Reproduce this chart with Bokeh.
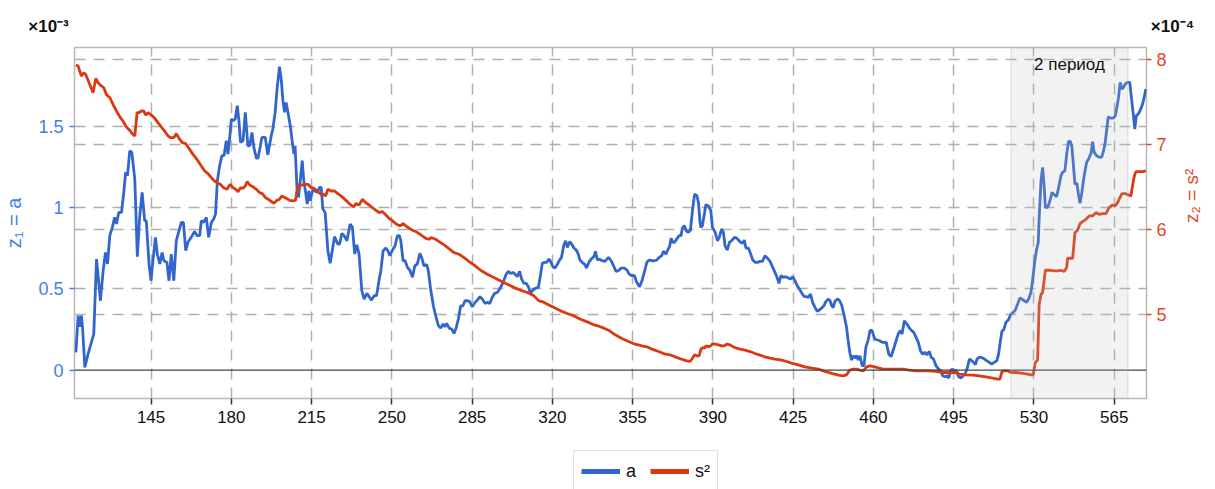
import math
from bokeh.plotting import figure
from bokeh.layouts import column
from bokeh.models import (Range1d, LinearAxis, FixedTicker, Grid, Span, BoxAnnotation,
                          Label, Legend, LegendItem, CustomJSTickFormatter)
from bokeh.embed import file_html
from bokeh.resources import INLINE

# ---- series a (left axis, units of 1e-3) ----
t_a = [
    112.2, 113.2, 113.9, 114.6, 115.1, 116.1, 117.5, 120.0, 121.2, 122.9,
    124.1, 125.1, 126.0, 127.0, 128.1, 129.1, 129.9, 130.9, 132.1, 133.1,
    133.9, 134.7, 135.7, 136.6, 137.9, 139.0, 140.0, 141.1, 142.2, 142.9,
    144.1, 145.0, 145.8, 146.9, 147.7, 148.8, 149.8, 150.6, 151.9, 152.8,
    153.8, 154.9, 156.0, 157.2, 158.2, 159.1, 160.1, 161.1, 162.5, 164.0,
    165.0, 166.2, 166.9, 167.9, 169.1, 170.1, 171.3, 172.3, 173.1, 173.9,
    174.9, 175.9, 176.8, 177.8, 178.5, 179.2, 180.0, 180.7, 181.7, 182.6,
    183.3, 184.0, 185.1, 186.1, 187.2, 188.0, 189.0, 189.8, 190.9, 191.6,
    192.6, 193.3, 194.8, 195.9, 197.4, 198.1, 199.1, 200.0, 201.0, 201.8,
    202.5, 203.2, 203.9, 204.7, 205.7, 206.8, 207.3, 207.8, 208.6, 209.3,
    210.2, 210.9, 211.6, 212.3, 213.1, 213.8, 214.4, 215.5, 216.4, 217.4,
    218.5, 219.2, 219.9, 220.9, 222.1, 223.1, 224.0, 225.0, 226.4, 227.2,
    228.2, 229.2, 230.4, 231.8, 232.8, 233.8, 234.7, 235.7, 236.9, 237.9,
    239.1, 240.1, 241.1, 242.3, 243.3, 244.5, 245.2, 246.2, 247.4, 248.4,
    249.1, 250.3, 251.4, 252.4, 253.3, 253.9, 254.9, 255.8, 256.8, 257.8,
    259.0, 260.0, 261.1, 262.2, 263.0, 264.0, 265.2, 265.9, 266.9, 268.1,
    269.1, 270.3, 271.3, 272.3, 273.1, 273.9, 275.0, 276.1, 277.1, 278.1,
    279.0, 280.0, 281.0, 281.9, 282.9, 283.9, 285.1, 286.3, 287.3, 288.4,
    289.5, 290.6, 291.6, 292.7, 293.8, 294.8, 296.0, 297.0, 298.2, 298.9,
    299.9, 300.8, 301.8, 302.8, 303.7, 304.7, 305.7, 306.6, 307.6, 308.6,
    309.5, 310.5, 311.5, 312.7, 313.9, 314.9, 315.6, 316.6, 317.5, 318.5,
    319.2, 320.2, 321.1, 322.1, 323.1, 324.0, 325.0, 325.8, 326.5, 327.5,
    328.4, 329.4, 330.4, 331.3, 332.0, 333.0, 334.2, 334.9, 335.9, 336.9,
    338.1, 338.8, 339.6, 340.6, 341.7, 342.9, 344.5, 345.6, 346.7, 347.7,
    348.8, 350.0, 351.4, 352.5, 353.5, 354.6, 355.8, 356.8, 358.0, 359.0,
    360.2, 361.2, 362.2, 363.4, 364.4, 365.5, 366.6, 367.7, 368.4, 369.5,
    370.3, 371.1, 371.8, 372.5, 373.2, 374.2, 375.3, 376.1, 376.7, 377.6,
    378.3, 379.3, 380.2, 381.1, 382.0, 383.0, 383.7, 384.4, 384.8, 385.4,
    386.3, 386.9, 388.0, 389.1, 389.8, 391.0, 392.0, 392.8, 393.8, 394.6,
    395.3, 396.3, 397.2, 398.2, 399.4, 400.4, 401.4, 402.1, 403.0, 403.7,
    404.4, 405.5, 406.5, 407.4, 408.4, 409.5, 410.5, 411.6, 412.7, 413.7,
    414.9, 416.1, 417.1, 418.1, 418.8, 419.7, 420.7, 421.7, 422.9, 423.9,
    424.8, 425.8, 426.8, 428.0, 429.0, 429.9, 430.9, 431.6, 432.6, 433.5,
    434.5, 435.5, 436.4, 437.4, 438.4, 439.3, 440.3, 441.0, 441.8, 442.5,
    443.2, 444.2, 445.1, 446.1, 447.1, 448.3, 449.0, 449.7, 450.5, 451.2,
    451.9, 452.7, 453.4, 454.1, 455.1, 455.9, 456.7, 457.7, 458.5, 459.2,
    459.9, 460.6, 462.7, 464.1, 465.6, 466.7, 467.7, 468.8, 469.9, 470.9,
    471.8, 472.5, 473.5, 474.6, 475.7, 476.7, 477.6, 478.6, 479.6, 480.5,
    481.5, 482.5, 483.4, 484.4, 485.2, 486.2, 487.3, 488.4, 489.5, 490.2,
    491.3, 492.1, 492.9, 493.6, 494.3, 495.3, 496.3, 497.2, 498.2, 499.2,
    500.1, 500.8, 501.9, 502.9, 503.7, 504.5, 505.2, 506.2, 507.2, 508.4,
    509.4, 510.6, 511.6, 512.7, 513.8, 514.6, 515.4, 516.1, 516.8, 517.8,
    518.8, 520.0, 521.0, 521.9, 522.9, 523.9, 524.8, 525.8, 526.8, 527.7,
    528.7, 529.4, 530.5, 531.2, 531.9, 532.3, 533.1, 533.8, 534.5, 535.0,
    536.0, 537.0, 537.9, 538.9, 539.9, 540.8, 541.8, 542.5, 543.5, 544.3,
    545.1, 545.9, 546.6, 547.3, 547.9, 548.8, 549.3, 550.1, 550.9, 551.9,
    553.0, 553.8, 554.9, 555.6, 556.3, 557.3, 558.2, 558.9, 559.6, 560.4,
    561.1, 561.7, 562.4, 563.3, 564.0, 564.7, 565.5, 566.2, 566.9, 567.6,
    568.4, 569.1, 569.8, 570.8, 571.8, 572.6, 573.4, 574.0, 574.7, 575.5,
    576.3, 577.4, 578.1, 578.8,
]
a_vals = [
    0.109, 0.334, 0.266, 0.334, 0.266, 0.016, 0.098, 0.221, 0.682, 0.426,
    0.611, 0.723, 0.652, 0.826, 0.877, 0.939, 0.898, 0.969, 0.969, 1.092,
    1.215, 1.195, 1.348, 1.338, 1.174, 0.697, 0.939, 1.092, 0.918, 0.918,
    0.652, 0.549, 0.672, 0.816, 0.713, 0.652, 0.723, 0.672, 0.662, 0.549,
    0.713, 0.549, 0.795, 0.857, 0.908, 0.908, 0.734, 0.785, 0.816, 0.852,
    0.826, 0.826, 0.918, 0.908, 0.939, 0.816, 0.908, 0.928, 0.959, 1.164,
    1.256, 1.318, 1.318, 1.410, 1.328, 1.414, 1.543, 1.533, 1.543, 1.625,
    1.533, 1.400, 1.410, 1.584, 1.379, 1.379, 1.461, 1.369, 1.303, 1.303,
    1.373, 1.430, 1.430, 1.324, 1.441, 1.482, 1.584, 1.738, 1.865, 1.779,
    1.656, 1.584, 1.645, 1.584, 1.502, 1.379, 1.328, 1.379, 1.123, 1.061,
    1.184, 1.287, 1.164, 1.102, 1.020, 1.102, 1.041, 1.107, 1.102, 1.092,
    1.123, 1.123, 0.990, 0.969, 0.734, 0.656, 0.734, 0.820, 0.775, 0.775,
    0.840, 0.826, 0.795, 0.898, 0.877, 0.713, 0.770, 0.713, 0.488, 0.436,
    0.471, 0.451, 0.430, 0.457, 0.457, 0.559, 0.611, 0.734, 0.750, 0.730,
    0.703, 0.738, 0.764, 0.826, 0.826, 0.795, 0.672, 0.672, 0.631, 0.615,
    0.570, 0.641, 0.652, 0.717, 0.693, 0.641, 0.648, 0.611, 0.498, 0.395,
    0.334, 0.273, 0.258, 0.283, 0.266, 0.287, 0.258, 0.252, 0.225, 0.262,
    0.314, 0.395, 0.395, 0.426, 0.426, 0.422, 0.389, 0.416, 0.430, 0.451,
    0.436, 0.410, 0.416, 0.410, 0.447, 0.471, 0.477, 0.498, 0.529, 0.553,
    0.590, 0.607, 0.594, 0.600, 0.590, 0.574, 0.607, 0.559, 0.533, 0.533,
    0.512, 0.471, 0.492, 0.504, 0.508, 0.590, 0.656, 0.662, 0.662, 0.682,
    0.668, 0.635, 0.627, 0.648, 0.676, 0.693, 0.770, 0.795, 0.754, 0.789,
    0.775, 0.750, 0.738, 0.713, 0.676, 0.662, 0.648, 0.627, 0.662, 0.682,
    0.697, 0.730, 0.676, 0.682, 0.672, 0.668, 0.693, 0.672, 0.641, 0.607,
    0.611, 0.627, 0.627, 0.615, 0.590, 0.580, 0.580, 0.539, 0.512, 0.545,
    0.607, 0.662, 0.676, 0.672, 0.672, 0.676, 0.693, 0.703, 0.730, 0.713,
    0.738, 0.758, 0.811, 0.785, 0.785, 0.805, 0.826, 0.826, 0.873, 0.887,
    0.857, 0.846, 0.861, 0.980, 1.082, 1.072, 1.031, 0.908, 0.877, 0.887,
    0.959, 1.016, 1.010, 0.980, 0.877, 0.846, 0.795, 0.816, 0.867, 0.846,
    0.764, 0.738, 0.785, 0.795, 0.816, 0.811, 0.795, 0.785, 0.779, 0.799,
    0.750, 0.750, 0.713, 0.676, 0.662, 0.662, 0.668, 0.668, 0.703, 0.689,
    0.668, 0.631, 0.600, 0.566, 0.533, 0.580, 0.570, 0.574, 0.566, 0.559,
    0.574, 0.549, 0.518, 0.492, 0.467, 0.451, 0.451, 0.447, 0.467, 0.416,
    0.385, 0.361, 0.369, 0.381, 0.395, 0.422, 0.436, 0.430, 0.395, 0.385,
    0.422, 0.436, 0.430, 0.402, 0.344, 0.262, 0.180, 0.109, 0.061, 0.088,
    0.074, 0.088, 0.061, 0.088, 0.027, 0.027, 0.139, 0.184, 0.242, 0.246,
    0.221, 0.191, 0.180, 0.170, 0.170, 0.098, 0.082, 0.129, 0.180, 0.225,
    0.242, 0.221, 0.303, 0.283, 0.258, 0.242, 0.232, 0.201, 0.170, 0.119,
    0.098, 0.109, 0.094, 0.115, 0.078, 0.068, 0.027, 0.006, -0.004, -0.035,
    -0.041, -0.035, -0.049, -0.008, 0.006, -0.004, -0.004, -0.041, -0.049, -0.035,
    -0.020, 0.006, 0.068, 0.057, 0.047, 0.033, 0.068, 0.078, 0.078, 0.068,
    0.057, 0.047, 0.037, 0.047, 0.057, 0.098, 0.180, 0.242, 0.246, 0.293,
    0.307, 0.344, 0.354, 0.369, 0.406, 0.443, 0.436, 0.426, 0.416, 0.436,
    0.477, 0.549, 0.682, 0.744, 0.785, 0.939, 1.164, 1.246, 1.123, 1.000,
    1.000, 1.041, 1.092, 1.078, 1.066, 1.123, 1.195, 1.215, 1.225, 1.328,
    1.406, 1.406, 1.369, 1.246, 1.143, 1.148, 1.092, 1.025, 1.092, 1.195,
    1.277, 1.297, 1.332, 1.404, 1.338, 1.318, 1.311, 1.307, 1.311, 1.348,
    1.400, 1.471, 1.557, 1.549, 1.549, 1.549, 1.564, 1.615, 1.676, 1.768,
    1.727, 1.738, 1.758, 1.768, 1.768, 1.666, 1.564, 1.482, 1.564, 1.574,
    1.594, 1.635, 1.676, 1.727,
]

# ---- series s^2 (right axis, units of 1e-4) ----
t_s2 = [
    112.2, 113.2, 114.6, 115.6, 116.5, 118.3, 119.7, 120.9, 121.9, 122.9,
    124.4, 125.5, 127.0, 128.4, 129.9, 131.6, 132.8, 134.2, 135.7, 136.8,
    137.9, 138.9, 139.7, 140.8, 141.8, 142.7, 143.7, 145.1, 146.6, 148.0,
    149.5, 150.9, 152.4, 153.4, 154.9, 156.0, 157.2, 158.6, 160.1, 161.8,
    163.3, 165.0, 166.9, 168.4, 169.8, 171.3, 172.7, 173.7, 175.2, 176.6,
    178.1, 179.5, 180.7, 181.9, 182.9, 184.0, 185.1, 186.1, 186.9, 188.0,
    189.4, 190.9, 192.3, 193.5, 194.9, 196.7, 198.6, 199.9, 201.0, 202.0,
    203.9, 205.4, 206.8, 208.0, 209.0, 210.5, 211.9, 213.4, 214.8, 216.3,
    217.7, 219.2, 220.2, 221.1, 222.1, 223.5, 225.0, 226.4, 227.8, 229.2,
    230.6, 232.1, 233.3, 234.3, 235.7, 237.2, 238.6, 240.1, 241.5, 243.0,
    244.5, 245.9, 247.4, 248.8, 250.3, 251.7, 253.6, 254.9, 256.1, 257.5,
    259.0, 260.4, 261.9, 263.3, 264.8, 266.2, 267.2, 269.1, 270.6, 272.8,
    274.9, 277.1, 279.3, 281.5, 283.7, 285.8, 288.7, 291.6, 294.5, 297.4,
    300.4, 303.3, 306.2, 309.1, 312.0, 314.1, 315.6, 317.8, 320.7, 323.6,
    326.5, 329.4, 332.3, 335.2, 338.1, 340.3, 342.5, 344.5, 347.4, 350.3,
    353.2, 356.1, 359.0, 361.2, 363.4, 366.3, 369.2, 371.3, 373.5, 376.4,
    378.6, 380.1, 381.1, 382.0, 383.0, 384.0, 384.8, 385.6, 386.3, 387.0,
    388.0, 389.1, 389.9, 391.0, 392.4, 393.9, 395.0, 396.0, 397.5, 398.9,
    400.4, 401.8, 404.0, 406.2, 408.4, 410.5, 412.7, 414.9, 417.1, 420.0,
    422.2, 424.3, 427.2, 430.1, 433.1, 436.0, 438.9, 441.8, 444.7, 446.8,
    448.3, 449.7, 451.2, 452.7, 454.1, 455.6, 457.0, 458.5, 460.6, 464.1,
    467.0, 469.9, 472.8, 475.7, 478.6, 481.5, 484.4, 487.3, 490.2, 493.1,
    495.3, 497.5, 500.4, 503.3, 506.2, 509.1, 512.0, 514.2, 515.2, 516.1,
    517.1, 518.6, 520.0, 522.2, 525.1, 527.3, 528.7, 529.7, 530.6, 531.6,
    532.3, 533.1, 533.8, 535.0, 536.0, 537.4, 538.9, 540.3, 541.8, 543.2,
    544.3, 544.7, 545.7, 546.9, 547.9, 549.0, 550.1, 551.2, 552.7, 554.1,
    555.6, 557.0, 558.5, 559.9, 561.4, 562.8, 564.3, 565.5, 566.5, 567.5,
    568.4, 569.8, 571.3, 572.3, 573.0, 573.8, 574.5, 575.9, 577.4, 578.8,
]
s2_vals = [
    7.930, 7.918, 7.800, 7.840, 7.820, 7.700, 7.605, 7.773, 7.723, 7.695,
    7.664, 7.586, 7.547, 7.469, 7.391, 7.313, 7.273, 7.203, 7.164, 7.125,
    7.098, 7.371, 7.371, 7.391, 7.391, 7.344, 7.371, 7.344, 7.305, 7.254,
    7.203, 7.156, 7.098, 7.078, 7.078, 7.125, 7.070, 7.020, 7.008, 6.941,
    6.883, 6.824, 6.746, 6.688, 6.656, 6.609, 6.570, 6.551, 6.531, 6.492,
    6.473, 6.531, 6.492, 6.473, 6.445, 6.492, 6.484, 6.512, 6.563, 6.523,
    6.504, 6.473, 6.434, 6.422, 6.375, 6.344, 6.309, 6.344, 6.355, 6.395,
    6.367, 6.344, 6.336, 6.344, 6.523, 6.520, 6.531, 6.531, 6.492, 6.480,
    6.445, 6.414, 6.414, 6.395, 6.473, 6.453, 6.453, 6.422, 6.395, 6.363,
    6.328, 6.289, 6.266, 6.305, 6.289, 6.355, 6.316, 6.289, 6.258, 6.227,
    6.199, 6.211, 6.172, 6.133, 6.102, 6.070, 6.043, 6.070, 6.043, 6.016,
    5.992, 5.977, 5.953, 5.926, 5.898, 5.887, 5.906, 5.887, 5.859, 5.820,
    5.777, 5.730, 5.711, 5.672, 5.625, 5.586, 5.523, 5.477, 5.438, 5.398,
    5.359, 5.320, 5.289, 5.262, 5.223, 5.164, 5.156, 5.125, 5.086, 5.047,
    5.016, 4.988, 4.949, 4.918, 4.883, 4.867, 4.844, 4.820, 4.766, 4.723,
    4.688, 4.656, 4.637, 4.625, 4.598, 4.570, 4.539, 4.531, 4.508, 4.480,
    4.461, 4.453, 4.492, 4.531, 4.520, 4.520, 4.598, 4.617, 4.609, 4.637,
    4.625, 4.637, 4.664, 4.656, 4.648, 4.637, 4.637, 4.656, 4.648, 4.625,
    4.609, 4.598, 4.586, 4.570, 4.547, 4.527, 4.508, 4.492, 4.480, 4.469,
    4.453, 4.434, 4.414, 4.391, 4.375, 4.363, 4.336, 4.313, 4.293, 4.285,
    4.297, 4.352, 4.363, 4.363, 4.352, 4.344, 4.391, 4.402, 4.391, 4.363,
    4.363, 4.363, 4.363, 4.352, 4.344, 4.344, 4.344, 4.336, 4.324, 4.324,
    4.324, 4.305, 4.297, 4.293, 4.285, 4.273, 4.258, 4.246, 4.246, 4.336,
    4.344, 4.344, 4.324, 4.324, 4.313, 4.305, 4.297, 4.297, 4.441, 4.469,
    5.125, 5.242, 5.262, 5.523, 5.523, 5.523, 5.516, 5.516, 5.523, 5.508,
    5.555, 5.664, 5.664, 5.664, 5.965, 5.992, 6.070, 6.094, 6.121, 6.160,
    6.160, 6.199, 6.180, 6.188, 6.188, 6.258, 6.289, 6.277, 6.316, 6.375,
    6.422, 6.422, 6.406, 6.395, 6.512, 6.629, 6.680, 6.680, 6.680, 6.688,
]

x_ticks = [145, 180, 215, 250, 285, 320, 355, 390, 425, 460, 495, 530, 565]
left_ticks = [0, 0.5, 1, 1.5]
right_ticks = [5, 6, 7, 8]
period_start, period_end = 520, 571
period_label = "2 период"
scale_left, scale_right = "×10⁻³", "×10⁻⁴"

FONT = "Liberation Sans"
BLUE = "#3366cc"
RED = "#dc3912"
BLUE_TXT = "#3f80ee"
RED_TXT = "#e8461e"
GRID = "#b0b0b0"
DASH = "11 8"
W = 1215
X0, X1 = 111.6, 579.1

# ---- main chart ----
p = figure(width=W, height=438, output_backend="svg", toolbar_location=None,
           x_range=Range1d(X0, X1), y_range=Range1d(-0.175, 1.983),
           min_border_left=73, min_border_right=68, min_border_top=47,
           min_border_bottom=40)
p.extra_y_ranges = {"s2": Range1d(4.019, 8.136)}
p.outline_line_color = "#b8b8b8"
p.outline_line_width = 1.5

fmt = CustomJSTickFormatter(code="return String(tick);")

xa = p.xaxis[0]
xa.ticker = FixedTicker(ticks=x_ticks)
xa.axis_line_color = None
xa.major_tick_in = 0
xa.major_tick_out = 6
xa.major_tick_line_color = "#333333"
xa.major_tick_line_width = 1.5
xa.minor_tick_line_color = None
xa.major_label_text_font = FONT
xa.major_label_text_font_size = "17px"
xa.major_label_text_color = "#111111"
xa.major_label_standoff = 6

ya = p.yaxis[0]
ya.ticker = FixedTicker(ticks=left_ticks)
ya.formatter = fmt
ya.axis_line_color = None
ya.major_tick_in = 0
ya.major_tick_out = 5
ya.major_tick_line_color = BLUE_TXT
ya.major_tick_line_width = 1.5
ya.minor_tick_line_color = None
ya.major_label_text_font = FONT
ya.major_label_text_font_size = "18px"
ya.major_label_text_color = BLUE_TXT
ya.major_label_standoff = 6
ya.axis_label = "z₁ = a"
ya.axis_label_text_font = FONT
ya.axis_label_text_font_size = "20px"
ya.axis_label_text_font_style = "normal"
ya.axis_label_text_color = BLUE_TXT
ya.axis_label_standoff = 10

yr = LinearAxis(y_range_name="s2", ticker=FixedTicker(ticks=right_ticks), formatter=fmt)
yr.axis_line_color = None
yr.major_tick_in = 0
yr.major_tick_out = 5
yr.major_tick_line_color = RED_TXT
yr.major_tick_line_width = 1.5
yr.minor_tick_line_color = None
yr.major_label_text_font = FONT
yr.major_label_text_font_size = "18px"
yr.major_label_text_color = RED_TXT
yr.major_label_standoff = 5
yr.axis_label = "z₂ = s²"
yr.axis_label_text_font = FONT
yr.axis_label_text_font_size = "19px"
yr.axis_label_text_font_style = "normal"
yr.axis_label_text_color = RED_TXT
yr.axis_label_standoff = 22
if "axis_label_orientation" in yr.properties():
    yr.axis_label_orientation = math.pi / 2
p.add_layout(yr, "right")

# scale factors: labels of a bare top axis at the two ends of the x range,
# padded with no-break spaces so each sits beside its value axis
pad = "\u00a0" * 11
top = LinearAxis(ticker=FixedTicker(ticks=[X0 + 0.01, X1 - 0.01]),
                 formatter=CustomJSTickFormatter(
                     args=dict(left=scale_left + pad, right=pad + scale_right),
                     code="return tick < 300 ? left : right;"))
top.axis_line_color = None
top.major_tick_line_color = None
top.minor_tick_line_color = None
top.major_tick_in = 0
top.major_tick_out = 0
top.major_label_standoff = 12
top.major_label_text_font = FONT
top.major_label_text_font_size = "17px"
top.major_label_text_font_style = "bold"
top.major_label_text_color = "#111111"
p.add_layout(top, "above")

p.xgrid.ticker = FixedTicker(ticks=x_ticks)
p.ygrid.ticker = FixedTicker(ticks=[t for t in left_ticks if t != 0])
for g in (p.xgrid[0], p.ygrid[0]):
    g.grid_line_color = GRID
    g.grid_line_width = 1.5
    g.grid_line_dash = DASH
p.add_layout(Grid(dimension=1, ticker=FixedTicker(ticks=right_ticks), y_range_name="s2",
                  grid_line_color=GRID, grid_line_width=1.5, grid_line_dash=DASH))

p.add_layout(Span(location=0, dimension="width", line_color="#444444", line_width=1.2))

p.line(t_a, a_vals, line_color=BLUE, line_width=2.8)
p.line(t_s2, s2_vals, line_color=RED, line_width=2.8, y_range_name="s2")

p.add_layout(BoxAnnotation(left=period_start, right=period_end,
                           fill_color="#bfbfbf", fill_alpha=0.2,
                           line_color="#b5b5b5", line_width=1.5))
p.add_layout(Label(x=(period_start + period_end) / 2, y=334, x_units="data",
                   y_units="screen", text=period_label, text_font=FONT,
                   text_font_size="17px", text_color="#111111",
                   text_align="center", text_baseline="middle"))

# ---- footer strip with the series legend ----
# the footer's unit ranges keep these copies of the series out of view;
# they only supply the legend swatches
footer = figure(width=W, height=51, output_backend="svg", toolbar_location=None,
                x_range=Range1d(0, 1), y_range=Range1d(0, 1), x_axis_type=None,
                y_axis_type=None, min_border=0)
footer.outline_line_color = None
footer.grid.visible = False
leg_a = footer.line(t_a, a_vals, line_color=BLUE, line_width=5)
leg_s = footer.line(t_s2, s2_vals, line_color=RED, line_width=5)
legend = Legend(items=[LegendItem(label="a", renderers=[leg_a]),
                       LegendItem(label="s²", renderers=[leg_s])],
                location=(499, -3), orientation="horizontal",
                glyph_width=39, glyph_height=26, label_height=26, label_width=0,
                label_standoff=6, spacing=14, padding=7, margin=0,
                border_line_color="#c4c4c4", border_line_width=1,
                background_fill_color="white", background_fill_alpha=1,
                label_text_font=FONT, label_text_font_size="18px",
                label_text_color="#111111")
footer.add_layout(legend)

page = column(p, footer, spacing=0)
open("out.html", "w").write(file_html(page, INLINE))
